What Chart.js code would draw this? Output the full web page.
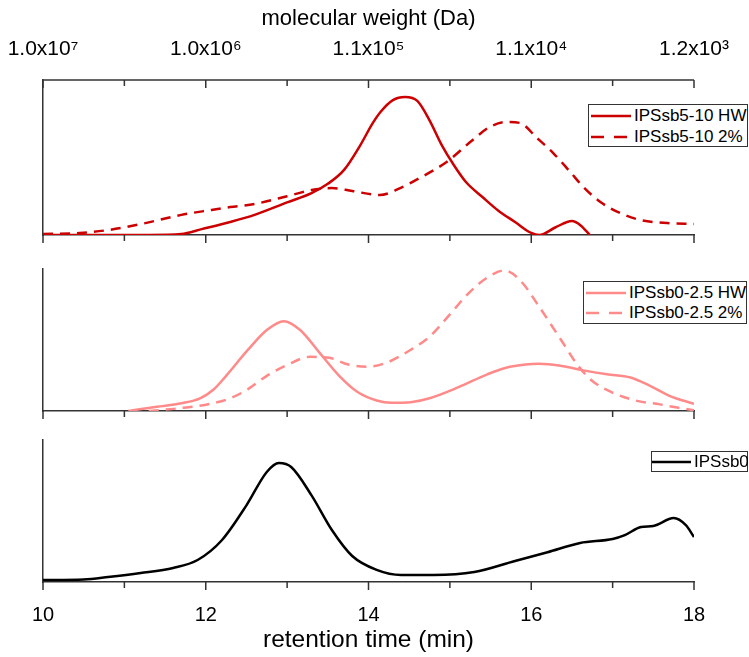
<!DOCTYPE html>
<html>
<head>
<meta charset="utf-8">
<script src="https://cdn.jsdelivr.net/npm/chart.js"></script>
<style>
  html, body { margin: 0; padding: 0; background: #fff; }
  #wrap { position: relative; width: 749px; height: 657px; overflow: hidden; }
  #wrap canvas { position: absolute; left: 0; }
  .legend {
    position: absolute; background: #fff; border: 1px solid #333; box-sizing: border-box;
    font-family: 'Liberation Sans', Arial, sans-serif; font-size: 17px; color: #000; z-index: 2;
  }
  .legend .row { display: flex; align-items: center; white-space: nowrap; }
  .legend svg { flex: none; }
  .legend span { margin-left: 3px; }
</style>
</head>
<body>
<div id="wrap">
  <canvas id="panel1" width="749" height="245" style="top:0"></canvas>
  <canvas id="panel2" width="749" height="170" style="top:255px"></canvas>
  <canvas id="panel3" width="749" height="227" style="top:430px"></canvas>
  <div class="legend" id="legend1" style="left:588px; top:104px; width:160px; height:43px; padding-top:0px"></div>
  <div class="legend" id="legend2" style="left:583px; top:281px; width:164px; height:43px; padding-top:1px"></div>
  <div class="legend" id="legend3" style="left:651px; top:451px; width:97px; height:21px"></div>
</div>
<script>
// ---- axes ----
const timeMin = 10;
const timeMax = 18;
const mwTickTimes = [10, 12, 14, 16, 18];
const mwTickLabels = ['1.0x10\u2077', '1.0x10\u2076', '1.1x10\u2075', '1.1x10\u2074', '1.2x10\u00B3'];

// ---- IPSsb5-10 (top panel) ----
const hw510Time = [10, 11.3, 11.7, 11.95, 12.3, 12.6, 13.0, 13.3, 13.5, 13.7, 13.9, 14.05, 14.15, 14.3, 14.45, 14.6, 14.75, 14.9, 15.05, 15.2, 15.4, 15.6, 15.8, 16.0, 16.1, 16.3, 16.5, 16.6, 16.72];
const hw510 = [0, 0, 0.6, 3.8, 8.4, 13, 21, 27, 33, 42, 58, 72, 79.5, 87, 89, 86.5, 74, 58, 45, 34, 24.5, 15.5, 8.4, 1.3, 0, 5, 9, 6.5, 0];
const pct510Time = [10, 10.45, 10.8, 11.2, 11.7, 12.05, 12.3, 12.6, 13.0, 13.3, 13.55, 13.8, 14.14, 14.39, 14.63, 14.96, 15.28, 15.49, 15.7, 15.86, 16.07, 16.27, 16.48, 16.64, 16.85, 17.09, 17.34, 17.67, 18];
const pct510 = [0.6, 1.3, 3.2, 7, 13, 16, 18, 20, 25, 29, 30.3, 28.4, 25.8, 30.3, 36.8, 47.1, 61.3, 69.7, 72.9, 72.3, 62.6, 52.9, 40.6, 31, 21.3, 14.2, 9.7, 7.7, 7.1];

// ---- IPSsb0-2.5 (middle panel) ----
const hw025Time = [11.05, 11.4, 11.7, 11.93, 12.1, 12.25, 12.52, 12.75, 12.96, 13.16, 13.4, 13.64, 13.87, 14.1, 14.28, 14.52, 14.75, 15.1, 15.46, 15.69, 15.93, 16.1, 16.34, 16.64, 16.93, 17.22, 17.46, 17.69, 18];
const hw025 = [0, 3, 5.5, 9, 15.5, 25, 43.6, 57.6, 63.9, 57.6, 41.3, 25, 13.3, 7.5, 5.8, 6.3, 9.1, 16.8, 26.1, 30.8, 33.1, 33.6, 32.4, 28.9, 26.1, 23.8, 17.9, 11, 5.1];
const pct025Time = [11.3, 11.68, 12.05, 12.3, 12.52, 12.75, 12.99, 13.28, 13.52, 13.75, 13.99, 14.22, 14.52, 14.75, 14.99, 15.22, 15.46, 15.67, 15.87, 16.1, 16.34, 16.58, 16.75, 16.99, 17.28, 17.58, 17.81, 18];
const pct025 = [0, 2, 5, 9, 15.6, 25, 32.4, 38.5, 37.8, 33.1, 31.5, 34.3, 43.6, 52.9, 68, 83.2, 94.9, 100, 92.5, 73.9, 52.9, 31.9, 21.4, 13.3, 7.5, 4.7, 2.3, 0.5];

// ---- IPSsb0 (bottom panel) ----
const sb0Time = [10, 10.5, 10.8, 11.2, 11.6, 11.9, 12.2, 12.5, 12.75, 12.9, 13.05, 13.3, 13.55, 13.8, 14.1, 14.4, 14.8, 15.3, 15.8, 16.2, 16.6, 17.0, 17.15, 17.35, 17.5, 17.75, 17.9, 18];
const sb0 = [1.4, 1.8, 3.5, 6.3, 9.9, 15.5, 29.6, 54, 77.5, 83.8, 81, 61, 36.6, 18.3, 8.5, 4.9, 4.9, 7, 14.8, 21, 27.5, 30.3, 33, 38.7, 39.4, 45, 40, 31.7];

const AXIS = '#333333';
const RED = '#cc0000';
const PINK = '#ff8a8a';
const BLACK = '#000000';
const FONT = "'Liberation Sans', Arial, sans-serif";

function points(times, values) {
    return times.map((t, i) => ({ x: t, y: values[i] }));
}

function series(label, times, values, color, dashed) {
    return {
        label: label,
        data: points(times, values),
        borderColor: color,
        borderWidth: 2.5,
        borderDash: dashed ? [10, 7] : [],
        pointRadius: 0,
        fill: false,
        cubicInterpolationMode: 'monotone'
    };
}

// tick marks on every retention-time tick, drawn from the scale itself
// (bottom axes point outward, the top molecular weight axis points inward)
const axisTicks = {
    id: 'axisTicks',
    afterDraw(chart) {
        const ctx = chart.ctx;
        const area = chart.chartArea;
        const xs = chart.scales.x;
        ctx.save();
        ctx.setLineDash([]);
        ctx.strokeStyle = AXIS;
        ctx.lineWidth = 1.5;
        xs.ticks.forEach((t) => {
            const x = xs.getPixelForValue(t.value);
            const len = t.value % 2 === 0 ? 8 : 6;
            ctx.beginPath();
            ctx.moveTo(x, area.bottom);
            ctx.lineTo(x, area.bottom + len);
            ctx.stroke();
        });
        const top = chart.scales.x2;
        if (top) {
            ctx.beginPath();
            ctx.moveTo(area.left, area.top);
            ctx.lineTo(area.right, area.top);
            ctx.stroke();
            top.ticks.forEach((t) => {
                const x = top.getPixelForValue(t.value);
                const len = mwTickTimes.includes(t.value) ? 8 : 6;
                ctx.beginPath();
                ctx.moveTo(x, area.top);
                ctx.lineTo(x, area.top + len);
                ctx.stroke();
            });
        }
        ctx.restore();
    }
};

// bottom retention-time axis; labels only on the last panel
function timeAxis(showLabels, height) {
    return {
        type: 'linear',
        position: 'bottom',
        min: timeMin,
        max: timeMax,
        grid: { display: false },
        border: { display: true, color: AXIS, width: 1.5 },
        ticks: {
            display: showLabels,
            stepSize: 1,
            autoSkip: false,
            maxRotation: 0,
            padding: 13,
            color: '#000',
            font: { family: FONT, size: 20 },
            callback: (v) => (v % 2 === 0 ? String(v) : '')
        },
        title: {
            display: showLabels,
            text: 'retention time (min)',
            color: '#000',
            font: { family: FONT, size: 24.5 },
            padding: { top: 0, bottom: 2 }
        },
        afterFit: (s) => { s.height = height; }
    };
}

function valueAxis(max) {
    return {
        min: 0,
        max: max,
        grid: { display: false },
        border: { display: true, color: AXIS, width: 1.5 },
        ticks: { display: false },
        afterFit: (s) => { s.width = 0; }
    };
}

const baseOptions = {
    responsive: false,
    animation: false,
    plugins: { legend: { display: false }, tooltip: { enabled: false } }
};

new Chart(document.getElementById('panel1'), {
    type: 'line',
    data: {
        datasets: [
            series('IPSsb5-10 HW', hw510Time, hw510, RED, false),
            series('IPSsb5-10 2%', pct510Time, pct510, RED, true)
        ]
    },
    options: {
        ...baseOptions,
        layout: { padding: { left: 43, right: 55, top: 0, bottom: 0 } },
        scales: {
            x: timeAxis(false, 10),
            x2: {
                type: 'linear',
                position: 'top',
                min: timeMin,
                max: timeMax,
                grid: { display: true, drawOnChartArea: false, drawTicks: true, tickLength: 13, tickColor: 'rgba(0,0,0,0)' },
                border: { display: false },
                ticks: {
                    stepSize: 1,
                    autoSkip: false,
                    maxRotation: 0,
                    padding: 5,
                    color: '#000',
                    font: { family: FONT, size: 21 },
                    callback: (v) => {
                        const i = mwTickTimes.indexOf(v);
                        return i >= 0 ? mwTickLabels[i] : '';
                    }
                },
                title: {
                    display: true,
                    text: 'molecular weight (Da)',
                    color: '#000',
                    font: { family: FONT, size: 22 },
                    padding: { top: 6, bottom: 0 }
                },
                afterFit: (s) => { s.height = 80; }
            },
            y: valueAxis(100)
        }
    },
    plugins: [axisTicks]
});

new Chart(document.getElementById('panel2'), {
    type: 'line',
    data: {
        datasets: [
            series('IPSsb0-2.5 HW', hw025Time, hw025, PINK, false),
            series('IPSsb0-2.5 2%', pct025Time, pct025, PINK, true)
        ]
    },
    options: {
        ...baseOptions,
        layout: { padding: { left: 43, right: 55, top: 14, bottom: 0 } },
        scales: { x: timeAxis(false, 14), y: valueAxis(101) }
    },
    plugins: [axisTicks]
});

new Chart(document.getElementById('panel3'), {
    type: 'line',
    data: { datasets: [series('IPSsb0', sb0Time, sb0, BLACK, false)] },
    options: {
        ...baseOptions,
        layout: { padding: { left: 43, right: 55, top: 10, bottom: 0 } },
        scales: { x: timeAxis(true, 75), y: valueAxis(100) }
    },
    plugins: [axisTicks]
});

// boxed legends inside the plots, built from the same labels and styles
function buildLegend(id, items, rowHeight, sampleLeft) {
    const box = document.getElementById(id);
    items.forEach((it) => {
        const row = document.createElement('div');
        row.className = 'row';
        row.style.height = rowHeight + 'px';
        const dash = it.dashed ? ' stroke-dasharray="13 10"' : '';
        row.innerHTML = '<svg width="' + (40 + sampleLeft) + '" height="6"><line x1="' + sampleLeft + '" y1="3" x2="' + (40 + sampleLeft) +
            '" y2="3" stroke="' + it.color + '" stroke-width="2.5"' + dash + '/></svg><span>' + it.label + '</span>';
        box.appendChild(row);
    });
}

buildLegend('legend1', [
    { label: 'IPSsb5-10 HW', color: RED, dashed: false },
    { label: 'IPSsb5-10 2%', color: RED, dashed: true }
], 21, 2);
buildLegend('legend2', [
    { label: 'IPSsb0-2.5 HW', color: PINK, dashed: false },
    { label: 'IPSsb0-2.5 2%', color: PINK, dashed: true }
], 20, 2);
buildLegend('legend3', [
    { label: 'IPSsb0', color: BLACK, dashed: false }
], 19, -1);
</script>
</body>
</html>
